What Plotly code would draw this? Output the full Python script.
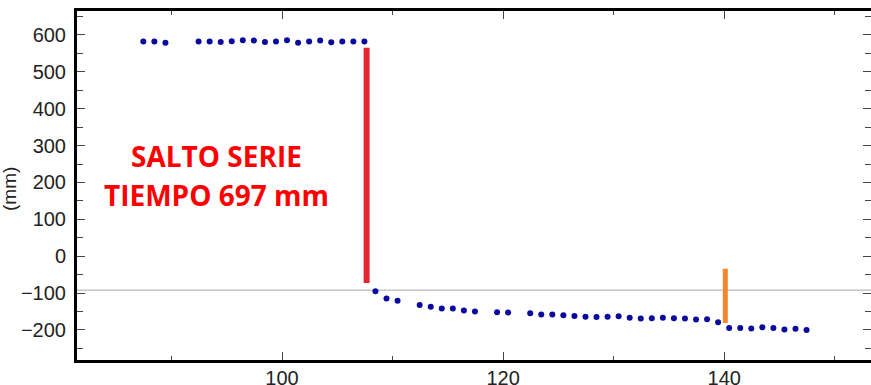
import plotly.graph_objects as go

# ---- data ----
UP_X = [87.45, 88.45, 89.45, 92.45, 93.45, 94.45, 95.45, 96.45, 97.45, 98.45,
        99.45, 100.45, 101.45, 102.45, 103.45, 104.45, 105.45, 106.45, 107.45]
UP_Y = [582, 582, 579, 582, 582, 581, 583, 586, 585, 581,
        582, 586, 579, 582, 585, 580, 582, 582, 582]

LOW_X = [108.45, 109.45, 110.45, 112.45, 113.45, 114.45, 115.45, 116.45, 117.45,
         119.45, 120.45, 122.45, 123.45, 124.45, 125.45, 126.45, 127.45, 128.45,
         129.45, 130.45, 131.45, 132.45, 133.45, 134.45, 135.45, 136.45, 137.45,
         138.45, 139.45, 140.45, 141.45, 142.45, 143.45, 144.45, 145.45, 146.45,
         147.45]
LOW_Y = [-95, -115, -121, -132, -137, -142, -142, -147, -150,
         -152, -153, -155, -158, -158, -160, -162, -164, -165,
         -164, -163, -167, -169, -168, -167, -168, -169, -172,
         -171, -179, -195, -195, -196, -193, -195, -199, -197,
         -200]

JUMP1_X = [107.65, 107.65]
JUMP1_Y = [-73, 565]
JUMP2_X = [140.1, 140.1]
JUMP2_Y = [-181, -34]

REF_LINE_Y = -92
X_RANGE = [81.45, 153.28]
Y_RANGE = [-281.5, 665]
LABEL_LINES = ["SALTO SERIE", "TIEMPO 697 mm"]
LABEL_X = 94.1
LABEL_Y = [271, 165]
Y_TITLE = "(mm)"

DOT = "#0a0a9e"
RED = "#e5252f"
ORANGE = "#f5862e"

fig = go.Figure()

fig.add_trace(go.Scatter(x=JUMP1_X, y=JUMP1_Y, mode="lines",
                         line=dict(color=RED, width=6), showlegend=False))
fig.add_trace(go.Scatter(x=JUMP2_X, y=JUMP2_Y, mode="lines",
                         line=dict(color=ORANGE, width=5), showlegend=False))
fig.add_trace(go.Scatter(x=UP_X, y=UP_Y, mode="markers",
                         marker=dict(color=DOT, size=6), showlegend=False))
fig.add_trace(go.Scatter(x=LOW_X, y=LOW_Y, mode="markers",
                         marker=dict(color=DOT, size=6), showlegend=False))

fig.add_hline(y=REF_LINE_Y, line=dict(color="#aaaaaa", width=1), layer="below")

for txt, yv in zip(LABEL_LINES, LABEL_Y):
    fig.add_annotation(x=LABEL_X, y=yv, text=f"<b>{txt}</b>", showarrow=False,
                       xanchor="center", yanchor="middle",
                       font=dict(family="Open Sans", size=28, color="#ff0000"))

fig.add_annotation(xref="paper", yref="paper", x=(10 - 77) / 794, y=0.49,
                   text=Y_TITLE, textangle=-90, showarrow=False,
                   xanchor="center", yanchor="middle",
                   font=dict(family="Liberation Sans", size=19, color="#222222"))

axis_font = dict(family="Liberation Sans", size=20, color="#222222")

fig.update_xaxes(range=X_RANGE, showgrid=False, zeroline=False, automargin=False,
                 showline=True, linecolor="black", linewidth=3, mirror="ticks",
                 ticks="inside", ticklen=8, tickwidth=1, tickcolor="#444444",
                 tick0=0, dtick=20, tickfont=axis_font, ticklabelstandoff=-2,
                 minor=dict(ticks="inside", ticklen=4, tickwidth=1,
                            tickcolor="#444444", dtick=10, tick0=0, showgrid=False))
fig.update_yaxes(range=Y_RANGE, showgrid=False, zeroline=False, automargin=False,
                 showline=True, linecolor="black", linewidth=3, mirror="ticks",
                 ticks="inside", ticklen=8, tickwidth=1, tickcolor="#444444",
                 tick0=0, dtick=100, tickfont=axis_font, ticklabelstandoff=4,
                 minor=dict(ticks="inside", ticklen=6, tickwidth=1,
                            tickcolor="#444444", dtick=50, tick0=0, showgrid=False))

fig.update_layout(width=871, height=385,
                  margin=dict(l=77, r=0, t=11, b=25, autoexpand=False),
                  paper_bgcolor="white", plot_bgcolor="white")

fig.write_html("out.html")
